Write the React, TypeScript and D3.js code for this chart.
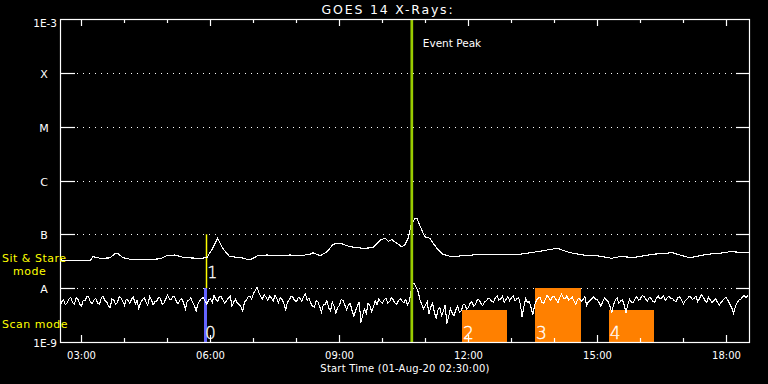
import React from "react";
import * as d3 from "d3";

const W = 768;
const H = 384;
const DAY = "2020-08-01";

const title = "GOES 14 X-Rays:";
const xTitle = "Start Time (01-Aug-20 02:30:00)";
const levelFlux = [1e-3, 1e-4, 1e-5, 1e-6, 1e-7, 1e-8, 1e-9];
const levelLabels = ["1E-3", "X", "M", "C", "B", "A", "1E-9"];
const gridFlux = [1e-4, 1e-5, 1e-6, 1e-7, 1e-8];
const majorTicks = ["03:00", "06:00", "09:00", "12:00", "15:00", "18:00"];
const minorTicks = ["04:00", "05:00", "07:00", "08:00", "10:00", "11:00", "13:00", "14:00", "16:00", "17:00"];
const domainTimes = ["02:30", "18:33"];

// Long channel (1-8 A) flux, W/m^2
const longTimes = [
  "02:30", "02:51", "03:12", "03:16", "03:26", "03:40", "03:47", "03:51", "03:58", "04:08",
  "04:36", "04:50", "04:59", "05:10", "05:24", "05:45", "05:55", "06:03", "06:10", "06:17",
  "06:27", "06:41", "06:55", "07:06", "07:19", "07:33", "07:51", "08:05", "08:19", "08:23",
  "08:33", "08:43", "08:51", "09:01", "09:15", "09:33", "09:47", "09:57", "10:04", "10:08",
  "10:13", "10:20", "10:27", "10:31", "10:36", "10:40", "10:45", "10:48", "10:55", "10:59",
  "11:06", "11:16", "11:24", "11:37", "11:52", "12:20", "12:48", "13:12", "13:36", "14:04",
  "14:22", "14:40", "14:59", "15:20", "15:31", "15:52", "16:17", "16:45", "16:55", "17:09",
  "17:33", "17:51", "18:05", "18:33",
];
const longFlux = [
  33.4e-9, 32.5e-9, 32.5e-9, 38.4e-9, 35.9e-9, 36.5e-9, 44.5e-9, 43.5e-9, 36.8e-9, 34.4e-9,
  34.4e-9, 35.0e-9, 40.1e-9, 41.3e-9, 36.8e-9, 35.9e-9, 36.8e-9, 55.0e-9, 84.4e-9, 55.0e-9,
  38.4e-9, 37.4e-9, 33.4e-9, 40.1e-9, 41.3e-9, 40.1e-9, 41.3e-9, 40.1e-9, 42.6e-9, 45.6e-9,
  40.1e-9, 47.6e-9, 65.4e-9, 68.2e-9, 58.9e-9, 55.0e-9, 56.5e-9, 78.5e-9, 84.4e-9, 74.0e-9,
  80.0e-9, 68.2e-9, 58.9e-9, 63.4e-9, 84.4e-9, 149e-9, 193e-9, 199e-9, 120e-9, 90.4e-9,
  84.4e-9, 55.0e-9, 42.6e-9, 38.4e-9, 40.1e-9, 42.6e-9, 42.6e-9, 42.6e-9, 47.6e-9, 55.0e-9,
  45.6e-9, 41.3e-9, 40.1e-9, 35.9e-9, 38.4e-9, 37.4e-9, 42.6e-9, 45.6e-9, 41.3e-9, 36.8e-9,
  42.6e-9, 44.5e-9, 47.6e-9, 45.6e-9,
];

// Short channel (0.5-4 A) flux, every 2.5 minutes from 02:30, units of 1E-9 W/m^2
const shortStart = "02:30";
const shortStepMinutes = 2.5;
const shortFlux = [
  4.5, 5.6, 6.0, 4.9, 5.3, 6.3, 6.8, 5.4, 5.0, 6.6, 6.2, 5.1, 4.6, 6.0, 5.8, 7.0, 6.9, 5.5, 5.2, 6.1,
  6.4, 5.3, 5.0, 6.5, 7.2, 5.9, 5.6, 4.7, 4.4, 6.3, 6.1, 5.0, 5.4, 6.9, 6.6, 5.7, 4.8, 6.2, 5.9, 5.2,
  6.3, 6.8, 5.1, 5.9, 4.2, 5.4, 6.0, 6.7, 5.5, 4.8, 7.0, 6.1, 4.9, 5.6, 5.7, 6.8, 6.5, 5.0, 5.3, 6.2,
  7.4, 6.4, 6.0, 7.1, 6.8, 5.6, 5.2, 6.0, 6.4, 5.3, 4.1, 5.7, 6.0, 6.6, 5.5, 4.7, 3.8, 5.1, 5.8, 6.4,
  6.7, 5.8, 5.0, 6.1, 6.3, 5.4, 7.3, 6.2, 5.6, 7.0, 6.9, 6.0, 5.2, 5.9, 6.5, 7.2, 4.6, 5.5, 6.2, 5.3,
  5.0, 4.5, 3.7, 5.6, 6.0, 6.9, 7.1, 6.2, 8.0, 9.1, 10.4, 8.3, 7.0, 6.3, 7.6, 6.8, 5.9, 7.2, 6.6, 5.8,
  7.3, 6.5, 5.4, 6.7, 6.2, 5.1, 4.0, 5.5, 6.1, 7.0, 6.8, 5.9, 5.6, 6.8, 6.4, 5.7, 7.0, 7.7, 6.0, 6.6,
  5.3, 4.6, 4.4, 5.8, 5.6, 4.5, 3.6, 4.9, 5.0, 5.9, 4.3, 3.8, 5.5, 4.6, 3.4, 4.4, 4.8, 6.2, 5.9, 4.9,
  4.0, 4.8, 5.2, 3.9, 3.0, 3.8, 4.6, 5.6, 2.3, 3.2, 4.1, 3.4, 5.3, 4.7, 3.6, 4.5, 5.8, 5.0, 6.3, 5.6,
  5.2, 6.1, 6.6, 5.3, 5.6, 6.7, 6.1, 5.3, 5.0, 5.9, 6.4, 5.7, 5.4, 6.2, 4.9, 5.6, 9.0, 12.2, 11.9, 10.1,
  8.5, 6.0, 5.0, 4.1, 4.8, 5.6, 3.3, 4.5, 5.2, 3.6, 2.7, 3.9, 4.4, 3.1, 3.7, 4.8, 2.2, 3.0, 4.2, 3.4,
  3.1, 4.0, 4.6, 3.5, 3.8, 4.9, 5.0, 4.1, 4.3, 5.3, 5.6, 4.6, 5.0, 6.2, 6.0, 5.2, 4.7, 5.5, 5.8, 6.5,
  6.4, 5.6, 5.5, 6.6, 7.2, 6.0, 6.3, 7.1, 5.4, 6.2, 7.0, 5.9, 6.6, 7.3, 5.8, 6.3, 6.7, 5.0, 2.9, 4.6,
  6.5, 5.4, 5.6, 4.3, 3.2, 4.9, 5.9, 6.6, 6.8, 5.5, 5.2, 6.3, 7.4, 6.5, 6.0, 7.0, 6.9, 6.1, 5.4, 6.7,
  7.8, 6.6, 6.3, 7.2, 5.9, 6.4, 6.8, 5.7, 5.0, 6.2, 6.5, 5.6, 6.2, 6.9, 4.8, 5.6, 5.9, 6.4, 7.0, 6.2,
  6.1, 5.3, 4.6, 5.7, 6.6, 6.0, 5.7, 4.6, 3.5, 4.9, 6.0, 6.6, 5.2, 5.8, 6.0, 4.8, 3.5, 5.0, 6.2, 5.5,
  5.4, 6.3, 6.9, 6.0, 6.3, 7.3, 7.0, 6.2, 5.8, 6.8, 6.4, 5.7, 5.5, 6.5, 7.1, 6.3, 6.6, 7.2, 5.9, 6.6,
  7.2, 6.4, 6.5, 5.8, 5.7, 6.7, 6.9, 6.0, 5.1, 5.8, 6.2, 6.9, 7.0, 6.1, 6.5, 7.1, 5.6, 6.4, 7.6, 6.8,
  6.0, 5.4, 6.8, 6.1, 5.3, 5.9, 6.4, 5.5, 4.8, 5.4, 5.9, 6.5, 6.7, 5.8, 5.0, 4.3, 3.4, 4.5, 5.4, 6.0,
  6.2, 6.9, 7.3, 6.6, 7.5,
];

const eventPeakTime = "10:41";
const eventPeakLabel = "Event Peak";

// Observation intervals: label, start, end, upper flux bound
const obsLabels = ["0", "2", "3", "4"];
const obsStart = ["05:51", "11:51", "13:33", "15:16"];
const obsEnd = ["05:55", "12:54", "14:37", "16:19"];
const obsTop = [1e-8, 4e-9, 1e-8, 4e-9];
const obsKind = ["blue", "orange", "orange", "orange"];

const sitStareLabel = "1";
const sitStareTime = "05:54";
const sitStareRange = [1e-8, 1e-7];

const FONT = "'DejaVu Sans', sans-serif";
const parse = d3.timeParse("%Y-%m-%d %H:%M");
const T = (s: string) => parse(`${DAY} ${s}`) as Date;

export default function App() {
  const left = 60, right = 750, top = 19, bottom = 342;
  const x = d3.scaleTime().domain(domainTimes.map(T)).range([left, right]);
  const y = d3.scaleLog().domain([1e-9, 1e-3]).range([bottom, top]);

  const longData = longTimes.map((t, i) => ({ t: T(t), v: longFlux[i] }));
  const t0 = T(shortStart).getTime();
  const shortData = shortFlux.map((v, i) => ({ t: new Date(t0 + i * shortStepMinutes * 60000), v: v * 1e-9 }));
  const line = d3.line<{ t: Date; v: number }>().x((d) => x(d.t)).y((d) => y(d.v));

  const kindColor: Record<string, string> = { blue: "#6464ff", orange: "#ff8000" };
  const yellow = "#ffff00";

  return (
    <svg width={W} height={H} style={{ position: "fixed", left: 0, top: 0, background: "#000" }} fontFamily={FONT}>
      <rect x={0} y={0} width={W} height={H} fill="#000" />
      {gridFlux.map((f, i) => (
        <line key={"g" + i} x1={left + 17} x2={right - 14} y1={Math.round(y(f)) + 0.5} y2={Math.round(y(f)) + 0.5}
          stroke="#fff" strokeWidth={1} strokeDasharray="1,5" shapeRendering="crispEdges" />
      ))}
      {obsLabels.map((lab, i) => {
        const x0 = x(T(obsStart[i]));
        const x1 = x(T(obsEnd[i]));
        const yt = y(obsTop[i]);
        return <rect key={"b" + i} x={x0} y={yt} width={x1 - x0} height={bottom - yt} fill={kindColor[obsKind[i]]} shapeRendering="crispEdges" />;
      })}
      <line x1={Math.round(x(T(sitStareTime))) + 0.5} x2={Math.round(x(T(sitStareTime))) + 0.5}
        y1={y(sitStareRange[0])} y2={y(sitStareRange[1])} stroke={yellow} strokeWidth={1.5} />
      <path d={line(longData) || ""} fill="none" stroke="#fff" strokeWidth={1.1} shapeRendering="crispEdges" />
      <path d={line(shortData) || ""} fill="none" stroke="#fff" strokeWidth={1.1} shapeRendering="crispEdges" />
      <line x1={x(T(eventPeakTime))} x2={x(T(eventPeakTime))} y1={top} y2={bottom} stroke="#99cc00" strokeWidth={2.7} />
      <text x={x(T(eventPeakTime)) + 11} y={47} fill="#fff" fontSize={10.5}>{eventPeakLabel}</text>
      {obsLabels.map((lab, i) => (
        <text key={"bl" + i} x={x(T(obsStart[i])) + 1} y={bottom - 3} fill="#fff" stroke="#fff" strokeWidth={0.35}
          fontSize={17} fontWeight={200}>{lab}</text>
      ))}
      <text x={x(T(sitStareTime)) + 1} y={278} fill="#fff" stroke="#fff" strokeWidth={0.35} fontSize={16} fontWeight={200}>{sitStareLabel}</text>
      <rect x={left + 0.5} y={top + 0.5} width={right - left - 1} height={bottom - top} fill="none" stroke="#fff" strokeWidth={1.2} />
      {levelFlux.map((f, i) => {
        const yy = Math.round(y(f)) + 0.5;
        const isEnd = i === 0 || i === levelFlux.length - 1;
        return (
          <g key={"yl" + i}>
            {!isEnd && <line x1={left} x2={left + 15} y1={yy} y2={yy} stroke="#fff" strokeWidth={1.2} />}
            {!isEnd && <line x1={right - 14} x2={right} y1={yy} y2={yy} stroke="#fff" strokeWidth={1.2} />}
            <text x={isEnd ? 57 : 44} y={i === 0 ? 27 : yy + 4} fill="#fff" fontSize={isEnd ? 10.5 : 11}
              textAnchor={isEnd ? "end" : "middle"}>{levelLabels[i]}</text>
          </g>
        );
      })}
      {majorTicks.map((t, i) => {
        const xx = Math.round(x(T(t))) + 0.5;
        return (
          <g key={"xt" + i}>
            <line x1={xx} x2={xx} y1={bottom} y2={bottom - 7} stroke="#fff" strokeWidth={1.2} />
            <line x1={xx} x2={xx} y1={top} y2={top + 7} stroke="#fff" strokeWidth={1.2} />
            <text x={xx} y={359} fill="#fff" fontSize={10} textAnchor="middle">{t}</text>
          </g>
        );
      })}
      {minorTicks.map((t, i) => {
        const xx = Math.round(x(T(t))) + 0.5;
        return (
          <g key={"mt" + i}>
            <line x1={xx} x2={xx} y1={bottom} y2={bottom - 4} stroke="#fff" strokeWidth={1.2} />
            <line x1={xx} x2={xx} y1={top} y2={top + 4} stroke="#fff" strokeWidth={1.2} />
          </g>
        );
      })}
      <text x={388} y={14} fill="#fff" fontSize={12.5} textAnchor="middle" letterSpacing={1.8}>{title}</text>
      <text x={405} y={372} fill="#fff" fontSize={10} textAnchor="middle" letterSpacing={0.2}>{xTitle}</text>
      <text x={2} y={262} fill={yellow} fontSize={11} letterSpacing={0.5}>Sit &amp; Stare</text>
      <text x={13} y={275} fill={yellow} fontSize={11} letterSpacing={0.5}>mode</text>
      <text x={2} y={328} fill={yellow} fontSize={11} letterSpacing={0.5}>Scan mode</text>
    </svg>
  );
}
